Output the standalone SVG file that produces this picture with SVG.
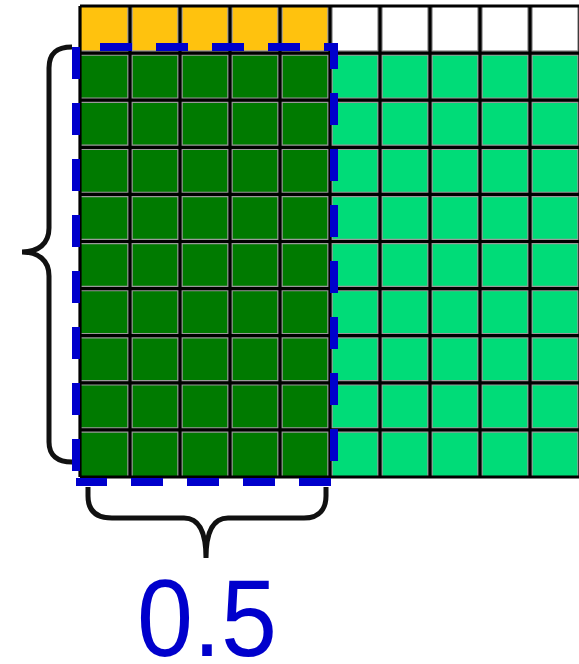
<svg xmlns="http://www.w3.org/2000/svg" width="579" height="664" viewBox="0 0 579 664">
<style>
.gl{stroke:#9a9a9a;stroke-width:5.5;fill:none}
.bl{stroke:#000;stroke-width:3.2;fill:none}
.dash{stroke:#0000cc;stroke-width:8;fill:none;stroke-dasharray:32 24}
.brace{stroke:#111;stroke-width:5;fill:none;stroke-linecap:butt}
</style>
<rect width="579" height="664" fill="#fff"/>
<g id="grid">
<rect x="80" y="6" width="250" height="47.1" fill="#ffc20e"/>
<rect x="330" y="6" width="250" height="47.1" fill="#fff"/>
<rect x="80" y="53.1" width="250" height="423.9" fill="#007a00"/>
<rect x="330" y="53.1" width="250" height="423.9" fill="#00dc78"/>
<path class="gl" d="M130,6V477M180,6V477M230,6V477M280,6V477M330,6V477M380,6V477M430,6V477M480,6V477M530,6V477M580,6V477M80,53.1H580M80,100.2H580M80,147.3H580M80,194.4H580M80,241.5H580M80,288.6H580M80,335.7H580M80,382.8H580M80,429.9H580"/>
<path class="bl" d="M80,6V477M130,6V477M180,6V477M230,6V477M280,6V477M330,6V477M380,6V477M430,6V477M480,6V477M530,6V477M580,6V477M80,6H580M80,53.1H580M80,100.2H580M80,147.3H580M80,194.4H580M80,241.5H580M80,288.6H580M80,335.7H580M80,382.8H580M80,429.9H580M80,477H580"/>
</g>
<g id="selection">
<path class="dash" d="M76,47H334V482H76" stroke-dashoffset="32"/>
<path class="dash" d="M76,47V482"/>
</g>
<g id="left-brace">
<path class="brace" d="M72,47C58,47 49,52 49,68V228C49,244 38,252 22,252C38,252 49,260 49,276V442C49,456 58,462 72,462"/>
</g>
<g id="bottom-brace">
<path class="brace" d="M88,487V496C88,510 95,518 112,518H184C198,518 206,530 206,558C206,530 214,518 228,518H304C320,518 326,508 326,496V487"/>
</g>
<g id="label">
<text x="207" y="656" text-anchor="middle" font-family="Liberation Sans, Arial, sans-serif" font-size="110" fill="#0000cc" textLength="140" lengthAdjust="spacingAndGlyphs">0.5</text>
</g>
</svg>
